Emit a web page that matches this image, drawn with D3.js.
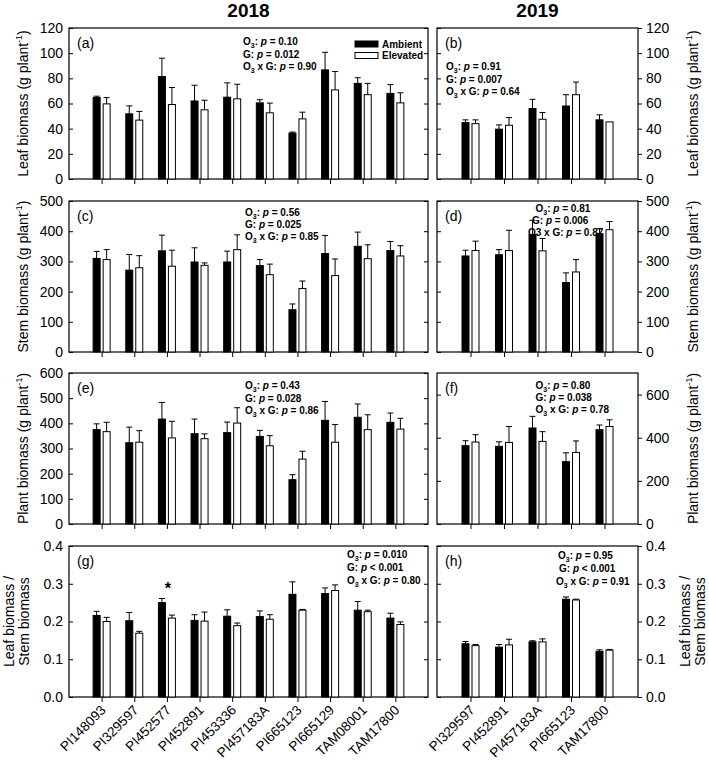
<!DOCTYPE html>
<html><head><meta charset="utf-8">
<script src="https://cdn.jsdelivr.net/npm/d3@7"></script>
<style>body{margin:0;background:#fff}svg{display:block}text{font-family:Arial,"Liberation Sans",sans-serif;fill:#000}</style>
</head><body>
<script>
// ---------------- DATA ----------------
const cats2018 = ["PI148093","PI329597","PI452577","PI452891","PI453336","PI457183A","PI665123","PI665129","TAM08001","TAM17800"];
const cats2019 = ["PI329597","PI452891","PI457183A","PI665123","TAM17800"];
const seriesNames = ["Ambient","Elevated"];

const leaf2018Amb = [64.7, 51.8, 81.4, 62, 65, 60.5, 36.5, 86.7, 76, 68];
const leaf2018AmbErr = [1.1, 6.3, 14.6, 12.5, 11.4, 2.5, 0.8, 14, 4.5, 7];
const leaf2018Ele = [59.7, 46.8, 59.2, 55, 63.7, 52.6, 47.8, 70.8, 67, 60.5];
const leaf2018EleErr = [5, 6.9, 13.5, 7.6, 11.6, 7.7, 5.3, 14.6, 9, 8];

const leaf2019Amb = [44.8, 39.6, 56, 58, 47];
const leaf2019AmbErr = [2.2, 3.4, 7.3, 9, 4];
const leaf2019Ele = [44, 42.7, 47.5, 67, 45.4];
const leaf2019EleErr = [3, 6.1, 5.3, 10, 0];

const stem2018Amb = [310, 271, 335, 298, 298, 286, 140, 326, 350, 336];
const stem2018AmbErr = [23, 52, 52, 47, 36, 20, 19, 60, 47, 30];
const stem2018Ele = [306, 279, 284, 287, 339, 256, 210, 253, 309, 318];
const stem2018EleErr = [33, 40, 53, 8, 49, 35, 25, 55, 46, 34];

const stem2019Amb = [318, 322, 389, 230, 392];
const stem2019AmbErr = [19, 17, 47, 32, 16];
const stem2019Ele = [336, 336, 335, 265, 405];
const stem2019EleErr = [31, 67, 41, 41, 27];

const plant2018Amb = [375, 323, 417, 359, 363, 348, 176, 412, 424, 404];
const plant2018AmbErr = [23, 62, 66, 58, 42, 24, 20, 75, 53, 37];
const plant2018Ele = [367, 325, 342, 339, 401, 311, 258, 325, 375, 377];
const plant2018EleErr = [37, 46, 66, 19, 61, 40, 31, 70, 59, 43];

const plant2019Amb = [363, 360, 445, 289, 437];
const plant2019AmbErr = [23, 21, 54, 41, 22];
const plant2019Ele = [380, 378, 383, 332, 452];
const plant2019EleErr = [34, 74, 45, 53, 31];

const ratio2018Amb = [0.216, 0.202, 0.250, 0.203, 0.214, 0.213, 0.272, 0.274, 0.230, 0.209];
const ratio2018AmbErr = [0.011, 0.022, 0.011, 0.015, 0.017, 0.015, 0.033, 0.015, 0.023, 0.013];
const ratio2018Ele = [0.200, 0.169, 0.209, 0.201, 0.189, 0.206, 0.230, 0.282, 0.226, 0.192];
const ratio2018EleErr = [0.011, 0.005, 0.008, 0.024, 0.007, 0.012, 0.002, 0.015, 0.004, 0.007];

const ratio2019Amb = [0.141, 0.132, 0.146, 0.259, 0.121];
const ratio2019AmbErr = [0.006, 0.007, 0.003, 0.006, 0.004];
const ratio2019Ele = [0.136, 0.138, 0.146, 0.257, 0.124];
const ratio2019EleErr = [0.003, 0.015, 0.008, 0.002, 0.002];

const leafTicks = [0, 20, 40, 60, 80, 100, 120];
const stemTicks = [0, 100, 200, 300, 400, 500];
const plant2018Ticks = [0, 100, 200, 300, 400, 500, 600];
const plant2019Ticks = [0, 200, 400, 600];
const ratioTicks = [0, 0.1, 0.2, 0.3, 0.4];

const statsA = ["O_3: p = 0.10", "G: p = 0.012", "O_3 x G: p = 0.90"];
const statsB = ["O_3: p = 0.91", "G: p = 0.007", "O_3 x G: p = 0.64"];
const statsC = ["O_3: p = 0.56", "G: p = 0.025", "O_3 x G: p = 0.85"];
const statsD = ["O_3: p = 0.81", "G: p = 0.006", "O3 x G: p = 0.87"];
const statsE = ["O_3: p = 0.43", "G: p = 0.028", "O_3 x G: p = 0.86"];
const statsF = ["O_3: p = 0.80", "G: p = 0.038", "O_3 x G: p = 0.78"];
const statsG = ["O_3: p = 0.010", "G: p < 0.001", "O_3 x G: p = 0.80"];
const statsH = ["O_3: p = 0.95", "G: p < 0.001", "O_3 x G: p = 0.91"];

// ---------------- LAYOUT ----------------
const W = 709, H = 762;
const colX = [[69, 428], [437, 638]];
const rowY = [[28, 179], [201, 352], [373, 524], [546, 697]];

const svg = d3.select("body").append("svg").attr("width", W).attr("height", H);

const panels = [
  {lab:"(a)", col:0, row:0, cats:cats2018, dom:[0,120], ticks:leafTicks, fmt:d3.format("d"), amb:leaf2018Amb, ambE:leaf2018AmbErr, ele:leaf2018Ele, eleE:leaf2018EleErr, stats:statsA, sx:[243,243,243], sy:[45,57.5,70]},
  {lab:"(b)", col:1, row:0, cats:cats2019, dom:[0,120], ticks:leafTicks, fmt:d3.format("d"), amb:leaf2019Amb, ambE:leaf2019AmbErr, ele:leaf2019Ele, eleE:leaf2019EleErr, stats:statsB, sx:[446,446,446], sy:[70,82.5,95]},
  {lab:"(c)", col:0, row:1, cats:cats2018, dom:[0,500], ticks:stemTicks, fmt:d3.format("d"), amb:stem2018Amb, ambE:stem2018AmbErr, ele:stem2018Ele, eleE:stem2018EleErr, stats:statsC, sx:[245,245,245], sy:[215.5,228,240]},
  {lab:"(d)", col:1, row:1, cats:cats2019, dom:[0,500], ticks:stemTicks, fmt:d3.format("d"), amb:stem2019Amb, ambE:stem2019AmbErr, ele:stem2019Ele, eleE:stem2019EleErr, stats:statsD, sx:[535.5,532,528], sy:[211.5,224,236]},
  {lab:"(e)", col:0, row:2, cats:cats2018, dom:[0,600], ticks:plant2018Ticks, fmt:d3.format("d"), amb:plant2018Amb, ambE:plant2018AmbErr, ele:plant2018Ele, eleE:plant2018EleErr, stats:statsE, sx:[245,245,245], sy:[389,401.5,414]},
  {lab:"(f)", col:1, row:2, cats:cats2019, dom:[0,700], ticks:plant2019Ticks, fmt:d3.format("d"), amb:plant2019Amb, ambE:plant2019AmbErr, ele:plant2019Ele, eleE:plant2019EleErr, stats:statsF, sx:[535.5,535.5,535.5], sy:[388.5,400.5,413]},
  {lab:"(g)", col:0, row:3, cats:cats2018, dom:[0,0.4], ticks:ratioTicks, fmt:d3.format(".1f"), amb:ratio2018Amb, ambE:ratio2018AmbErr, ele:ratio2018Ele, eleE:ratio2018EleErr, stats:statsG, sx:[347,347,347], sy:[558,571,583.5]},
  {lab:"(h)", col:1, row:3, cats:cats2019, dom:[0,0.4], ticks:ratioTicks, fmt:d3.format(".1f"), amb:ratio2019Amb, ambE:ratio2019AmbErr, ele:ratio2019Ele, eleE:ratio2019EleErr, stats:statsH, sx:[558,559,556], sy:[559,572,585]}
];

function statLine(g, str, x, y) {
  const t = g.append("text").attr("x", x).attr("y", y).attr("font-size", 10).attr("font-weight", "bold");
  const m = str.match(/^(.*?)(p)( [=<].*)$/);
  const parts = m[1].split("_3");
  parts.forEach((p, i) => {
    if (i > 0) {
      t.append("tspan").attr("font-size", 7).attr("dy", 3).text("3");
      t.append("tspan").attr("dy", -3).text(p);
    } else t.append("tspan").text(p);
  });
  t.append("tspan").attr("font-style", "italic").text("p");
  t.append("tspan").text(m[3]);
}

const bw = 7, gap = 1.5, capW = 6;

panels.forEach(P => {
  const [x0, x1] = colX[P.col];
  const [yT, yB] = rowY[P.row];
  const x = d3.scalePoint().domain(P.cats).range([x0, x1]).padding(1);
  const y = d3.scaleLinear().domain(P.dom).range([yB, yT]);
  const g = svg.append("g");

  P.stats.forEach((s, i) => statLine(g, s, P.sx[i], P.sy[i]));

  g.append("rect").attr("x", x0).attr("y", yT).attr("width", x1 - x0).attr("height", yB - yT)
    .attr("fill", "none").attr("stroke", "#000").attr("stroke-width", 1.2);

  if (P.col === 0) {
    const ax = g.append("g").attr("transform", `translate(${x0},0)`)
      .call(d3.axisLeft(y).tickValues(P.ticks).tickFormat(P.fmt).tickSize(-4).tickPadding(6));
    ax.select(".domain").remove();
    ax.selectAll("text").attr("font-size", 14).attr("font-family", "Arial, 'Liberation Sans', sans-serif");
    const ax2 = g.append("g").attr("transform", `translate(${x1},0)`)
      .call(d3.axisRight(y).tickValues(P.ticks).tickFormat("").tickSize(-4));
    ax2.select(".domain").remove();
  } else {
    const ax = g.append("g").attr("transform", `translate(${x1},0)`)
      .call(d3.axisRight(y).tickValues(P.ticks).tickFormat(P.fmt).tickSize(4).tickPadding(4));
    ax.select(".domain").remove();
    ax.selectAll("text").attr("font-size", 14).attr("font-family", "Arial, 'Liberation Sans', sans-serif");
    const ax2 = g.append("g").attr("transform", `translate(${x0},0)`)
      .call(d3.axisLeft(y).tickValues(P.ticks).tickFormat("").tickSize(-4));
    ax2.select(".domain").remove();
  }

  const xa = g.append("g").attr("transform", `translate(0,${yB})`)
    .call(d3.axisBottom(x).tickSize(5).tickFormat(""));
  xa.select(".domain").remove();

  if (P.row === 3) {
    P.cats.forEach(c => {
      g.append("text").attr("font-size", 13.5).attr("text-anchor", "end")
        .attr("transform", `translate(${x(c) + 5},${yB + 14}) rotate(-45)`)
        .text(c);
    });
  }

  const series = [
    {vals: P.amb, err: P.ambE, fill: "#000", off: -gap - bw},
    {vals: P.ele, err: P.eleE, fill: "#fff", off: gap}
  ];
  series.forEach(S => {
    P.cats.forEach((c, i) => {
      const bx = x(c) + S.off;
      const cx = bx + bw / 2;
      const top = y(S.vals[i]);
      const et = y(S.vals[i] + S.err[i]);
      if (S.err[i] > 0) {
        g.append("line").attr("x1", cx).attr("x2", cx).attr("y1", top).attr("y2", et).attr("stroke", "#000").attr("stroke-width", 1);
        g.append("line").attr("x1", cx - capW / 2).attr("x2", cx + capW / 2).attr("y1", et).attr("y2", et).attr("stroke", "#000").attr("stroke-width", 1);
      }
      g.append("rect").attr("x", bx).attr("y", top).attr("width", bw).attr("height", y(0) - top)
        .attr("fill", S.fill).attr("stroke", "#000").attr("stroke-width", 1);
    });
  });

  g.append("text").attr("x", x0 + 8).attr("y", yT + 20).attr("font-size", 14).text(P.lab);

  if (P.lab === "(g)") {
    g.append("text").attr("x", x("PI452577") + 1).attr("y", 594).attr("font-size", 16)
      .attr("font-weight", "bold").attr("text-anchor", "middle").text("*");
  }
});

const lg = svg.append("g");
seriesNames.forEach((n, i) => {
  lg.append("rect").attr("x", 355).attr("y", 41 + i * 11.5).attr("width", 23).attr("height", 6)
    .attr("fill", i === 0 ? "#000" : "#fff").attr("stroke", "#000").attr("stroke-width", 1);
  lg.append("text").attr("x", 382).attr("y", 47.5 + i * 11.5).attr("font-size", 10).attr("font-weight", "bold").text(n);
});

svg.append("text").attr("x", 248.5).attr("y", 17).attr("text-anchor", "middle").attr("font-size", 19).attr("font-weight", "bold").text("2018");
svg.append("text").attr("x", 537.5).attr("y", 17).attr("text-anchor", "middle").attr("font-size", 19).attr("font-weight", "bold").text("2019");

function yLabel(x, yc, main) {
  const t = svg.append("text").attr("transform", `translate(${x},${yc}) rotate(-90)`)
    .attr("text-anchor", "middle").attr("font-size", 14);
  t.append("tspan").text(main + " (g plant");
  t.append("tspan").attr("font-size", 9).attr("dy", -6).text("-1");
  t.append("tspan").attr("dy", 6).text(")");
}
const yLabels = ["Leaf biomass", "Stem biomass", "Plant biomass"];
yLabels.forEach((l, i) => {
  const yc = (rowY[i][0] + rowY[i][1]) / 2;
  yLabel(28, yc, l);
  yLabel(698, yc, l);
});
const ratioLabel = ["Leaf biomass /", "Stem biomass"];
[[14, 29], [690, 705]].forEach(xs => {
  ratioLabel.forEach((l, i) => {
    svg.append("text").attr("transform", `translate(${xs[i]},${(rowY[3][0] + rowY[3][1]) / 2}) rotate(-90)`)
      .attr("text-anchor", "middle").attr("font-size", 14).text(l);
  });
});
</script>
</body></html>
